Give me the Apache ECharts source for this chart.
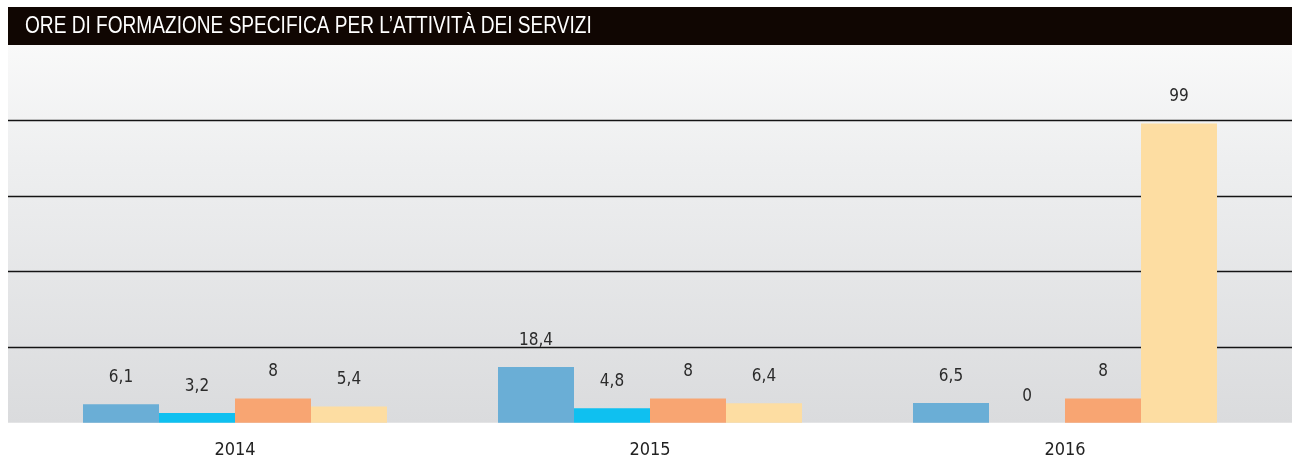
<!DOCTYPE html>
<html>
<head>
<meta charset="utf-8">
<title>Ore di formazione specifica</title>
<script src="https://cdn.jsdelivr.net/npm/echarts@6/dist/echarts.min.js"></script>
<style>
	html, body {
		margin: 0;
		padding: 0;
		background: #ffffff;
	}
	.com-chart {
		width: 1292px;
		height: 462px;
	}
</style>
</head>
<body>
<div class="com-chart" id="trendRef"></div>
<script>
	// dati
	const anni = ['2014', '2015', '2016']
	const serie1 = [6.1, 18.4, 6.5]
	const serie2 = [3.2, 4.8, 0]
	const serie3 = [8, 8, 8]
	const serie4 = [5.4, 6.4, 99]
	const colori = ['#6aaed6', '#0fc0f0', '#f8a572', '#fddda2']
	const titolo = 'ORE DI FORMAZIONE SPECIFICA PER L\u2019ATTIVITÀ DEI SERVIZI'

	const fontNarrow = '"DejaVu Sans Condensed", "Liberation Sans", sans-serif'

	// etichetta con la virgola decimale
	const labelFmt = p => String(p.value).replace('.', ',')

	function makeSerie(data, i) {
		return {
			type: 'bar',
			xAxisIndex: 1,
			yAxisIndex: 1,
			data: data,
			barWidth: 76,
			barGap: '0%',
			itemStyle: { color: colori[i] },
			label: {
				show: true,
				position: 'top',
				distance: 18,
				formatter: labelFmt,
				fontFamily: fontNarrow,
				fontSize: 17,
				color: '#2b2b2b'
			}
		}
	}

	const chartInstane = echarts.init(document.getElementById('trendRef'))
	const option = {
		animation: false,
		graphic: [
			// barra nera del titolo
			{
				type: 'rect',
				z: -1,
				shape: { x: 8, y: 7, width: 1284, height: 38 },
				style: { fill: '#100602' }
			},
			// titolo, stretto in orizzontale come il carattere condensed
			{
				type: 'text',
				x: 25,
				y: 27,
				scaleX: 0.83,
				style: {
					text: titolo,
					fill: '#ffffff',
					font: '23px "Liberation Sans", Arial, sans-serif',
					verticalAlign: 'middle'
				}
			}
		],
		grid: [
			// sfondo e linee orizzontali a tutta larghezza
			{
				left: 8, right: 0, top: 45, bottom: 39.3,
				show: true,
				borderWidth: 0,
				backgroundColor: new echarts.graphic.LinearGradient(0, 0, 0, 1, [
					{ offset: 0, color: '#f9f9f9' },
					{ offset: 0.3, color: '#eeeff0' },
					{ offset: 1, color: '#dadbdd' }
				])
			},
			// barre
			{ left: 27.5, right: 19.5, top: 45, bottom: 39.3 }
		],
		xAxis: [
			{ gridIndex: 0, type: 'value', show: false, min: 0, max: 1 },
			{
				gridIndex: 1,
				type: 'category',
				data: anni,
				axisLine: { show: false },
				axisTick: { show: false },
				axisLabel: {
					margin: 19,
					fontFamily: fontNarrow,
					fontSize: 18,
					color: '#222222'
				}
			}
		],
		yAxis: [
			{
				gridIndex: 0,
				type: 'value',
				min: 0, max: 125, interval: 25,
				axisLine: { show: false },
				axisTick: { show: false },
				axisLabel: { show: false },
				splitLine: {
					show: true,
					showMinLine: false,
					showMaxLine: false,
					lineStyle: { color: '#141414', width: 1.3 }
				}
			},
			{
				gridIndex: 1,
				type: 'value',
				min: 0, max: 125, interval: 25,
				show: false,
				splitLine: { show: false }
			}
		],
		series: [serie1, serie2, serie3, serie4].map(makeSerie)
	}
	chartInstane.setOption(option)
</script>
</body>
</html>
